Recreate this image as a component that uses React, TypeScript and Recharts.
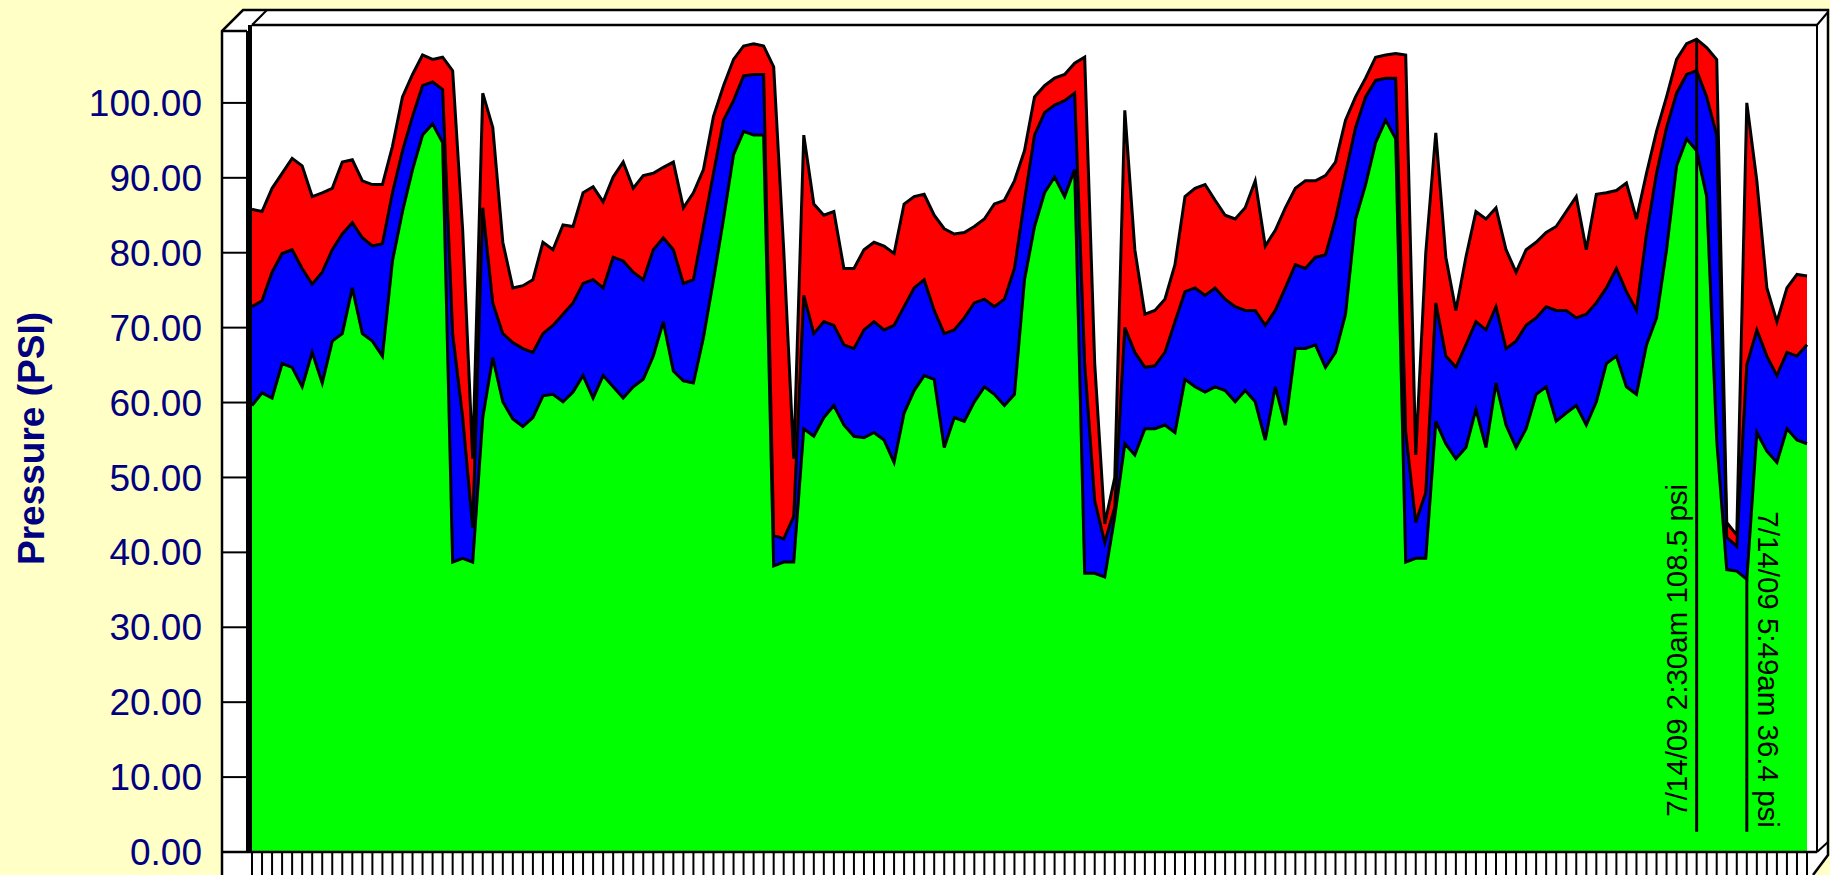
import { AreaChart, Area, XAxis, YAxis, ReferenceLine } from 'recharts'

// pressure readings, one per sample (PSI)
const highPsi = [
  85.8, 85.5, 88.6, 90.6, 92.6, 91.6, 87.5, 88.0, 88.6, 92.1, 92.4, 89.6, 89.1, 89.1, 94.2, 100.8, 103.8, 106.4, 105.8, 106.1,
  104.3, 83.0, 52.5, 101.3, 96.7, 81.4, 75.3, 75.6, 76.4, 81.4, 80.4, 83.7, 83.5, 88.0, 88.8,
  86.8, 90.1, 92.1, 88.6, 90.3, 90.6, 91.4, 92.1, 86.0, 88.0, 91.1, 98.2, 102.3, 105.8, 107.6, 107.9, 107.6, 104.8, 80.4, 52.5,
  95.7, 86.5, 85.0, 85.5, 77.9, 77.9, 80.4, 81.4, 80.9, 79.9, 86.5, 87.5, 87.8, 85.0, 83.2, 82.5, 82.7, 83.5, 84.5, 86.5,
  87.0, 89.6, 93.6, 100.8, 102.3, 103.3, 103.8, 105.3, 106.1, 65.2, 43.8, 50.0, 99.0, 80.4, 71.8, 72.3, 73.8, 78.4, 87.5, 88.6,
  89.1, 87.0, 85.0, 84.5, 86.0, 89.6, 80.9, 83.0, 86.0, 88.6, 89.6, 89.6, 90.3, 92.1, 97.7, 100.8, 103.3, 106.1, 106.4, 106.6,
  106.4, 53.0, 80.0, 96.0, 79.4, 72.3, 79.4, 85.5, 84.5, 86.0, 80.4, 77.4, 80.4, 81.4, 82.7, 83.5, 85.5, 87.5, 80.4, 87.8,
  88.0, 88.3, 89.3, 84.5, 90.6, 96.2, 100.8, 105.8, 107.9, 108.5, 107.4, 105.8, 44.0, 42.3, 100.0, 89.6, 75.3, 70.8, 75.3, 77.1,
  76.9,
]

const midPsi = [
  72.8, 73.6, 77.4, 79.9, 80.4, 77.9, 75.8, 77.4, 80.4, 82.5, 84.0, 82.0, 80.9, 81.2, 88.0, 93.6, 98.2, 102.3, 102.8, 101.8,
  69.2, 58.0, 43.3, 86.0, 73.3, 69.2, 68.0, 67.2, 66.7, 69.2, 70.3, 71.8, 73.3, 75.9, 76.4,
  75.3, 79.4, 78.9, 77.4, 76.4, 80.4, 82.0, 80.4, 75.9, 76.4, 83.5, 90.6, 97.7, 100.3, 103.6, 103.8, 103.8, 42.3, 41.8, 44.8,
  74.3, 69.2, 70.8, 70.3, 67.7, 67.2, 69.7, 70.8, 69.7, 70.3, 72.8, 75.3, 76.4, 72.3, 69.2, 69.7, 71.3, 73.3, 73.8, 72.8,
  73.8, 77.9, 87.0, 95.7, 98.7, 99.7, 100.3, 101.3, 65.2, 46.9, 41.3, 46.0, 70.0, 66.7, 64.7, 64.9, 66.7, 70.8, 74.8, 75.3,
  74.3, 75.3, 73.8, 72.8, 72.3, 72.3, 70.3, 72.3, 75.3, 78.4, 77.9, 79.4, 79.7, 84.5, 90.6, 96.7, 100.8, 103.0, 103.3, 103.3,
  56.0, 44.0, 48.0, 73.3, 66.2, 64.7, 67.7, 70.8, 69.7, 72.8, 67.2, 68.2, 70.3, 71.3, 72.8, 72.3, 72.3, 71.3, 71.8, 73.3,
  75.3, 77.9, 74.8, 72.3, 82.5, 90.6, 96.7, 101.3, 103.8, 104.3, 100.8, 95.7, 42.0, 40.8, 65.0, 69.7, 66.2, 63.6, 66.7, 66.2,
  67.7,
]

const lowPsi = [
  59.6, 61.3, 60.6, 65.2, 64.7, 62.1, 66.7, 62.6, 68.2, 69.2, 75.3, 69.2, 68.2, 66.2, 78.9, 85.5, 91.1, 95.7, 97.2, 94.7,
  38.7, 39.2, 38.7, 58.0, 66.0, 60.1, 57.8, 56.8, 58.0, 60.9, 61.1, 60.1, 61.4, 63.6, 60.6,
  63.6, 62.1, 60.6, 62.1, 63.1, 66.2, 70.8, 64.2, 62.9, 62.6, 68.7, 76.4, 84.5, 93.1, 96.2, 95.7, 95.7, 38.2, 38.7, 38.7,
  56.5, 55.5, 58.0, 59.6, 57.0, 55.5, 55.3, 56.0, 55.0, 52.0, 58.6, 61.6, 63.6, 63.1, 54.0, 58.0, 57.5, 60.1, 62.1, 61.1,
  59.6, 61.1, 76.4, 83.5, 88.0, 90.1, 87.5, 91.1, 37.2, 37.2, 36.7, 44.8, 54.5, 53.0, 56.5, 56.5, 57.0, 56.0, 63.1, 62.1,
  61.4, 62.1, 61.6, 60.1, 61.6, 60.1, 55.0, 62.1, 57.0, 67.2, 67.2, 67.7, 64.7, 66.7, 71.8, 84.5, 89.1, 94.7, 97.7, 95.2,
  38.7, 39.2, 39.2, 57.5, 54.5, 52.5, 54.0, 59.1, 54.0, 62.6, 57.0, 54.0, 56.5, 61.1, 62.1, 57.5, 58.6, 59.6, 57.0, 60.1,
  65.2, 66.2, 62.1, 61.1, 67.7, 71.3, 80.4, 91.6, 95.2, 93.6, 87.5, 55.0, 37.7, 37.5, 36.4, 56.0, 53.5, 52.0, 56.5, 55.0,
  54.5,
]

const yTicks = [0, 10, 20, 30, 40, 50, 60, 70, 80, 90, 100]

// marked readings: sample index, value, note
const peakNote = { at: 144, psi: 108.5, text: '7/14/09 2:30am 108.5 psi' }
const lowNote = { at: 149, psi: 36.4, text: '7/14/09 5:49am 36.4 psi' }

const data = lowPsi.map((low, i) => ({ sample: i, high: highPsi[i], mid: midPsi[i], low }))

const FONT = '"Liberation Sans", Arial, sans-serif'
const NAVY = '#000080'
const W = 1830
const H = 875
// plot box inside the 3D frame
const L = 252
const T = 25
const R = 1817
const B = 852
const WALL = 222

function NoteText({ viewBox, text, side }: any) {
  if (!viewBox) return null
  const { x, y, height } = viewBox
  const tx = side === 'left' ? x - 10 : x + 11
  const ty = side === 'left' ? y + height - 15 : y - 68
  return (
    <text
      x={tx}
      y={ty}
      transform={`rotate(${side === 'left' ? -90 : 90} ${tx} ${ty})`}
      fontSize={29.5}
      fontFamily={FONT}
      fill="#000"
    >
      {text}
    </text>
  )
}

export default function App() {
  return (
    <div style={{ position: 'absolute', left: 0, top: 0, width: W, height: H, background: '#FFFFC6', overflow: 'hidden' }}>
      {/* white 3D box behind the chart */}
      <svg width={W} height={H} style={{ position: 'absolute', left: 0, top: 0 }}>
        <polygon points={`${WALL},31 243,10 1828,10 1828,855 1813,${H} ${WALL},${H}`} fill="#fff" />
      </svg>

      <div style={{ position: 'absolute', left: 0, top: 0 }}>
        <AreaChart width={W} height={H} data={data} margin={{ top: T, right: W - R, bottom: 0, left: 0 }}>
          <XAxis
            dataKey="sample"
            interval={0}
            height={H - B}
            tickSize={H - B}
            tickLine={{ stroke: '#000', strokeWidth: 2 }}
            axisLine={false}
            tickFormatter={() => ''}
            padding={{ left: 0, right: 10 }}
          />
          <YAxis
            type="number"
            domain={[0, 110.4]}
            ticks={yTicks}
            width={L}
            tickSize={L - WALL}
            tickMargin={20}
            tickLine={{ stroke: '#000', strokeWidth: 2 }}
            axisLine={false}
            tick={{ fill: NAVY, fontSize: 37, fontFamily: FONT }}
            tickFormatter={(v) => v.toFixed(2)}
            label={{
              value: 'Pressure (PSI)',
              angle: -90,
              position: 'insideLeft',
              offset: 31,
              style: { textAnchor: 'middle', fill: NAVY, fontSize: 37, fontWeight: 'bold', fontFamily: FONT },
            }}
          />
          <Area type="linear" dataKey="high" fill="#FF0000" fillOpacity={1} stroke="#000" strokeWidth={3} dot={false} activeDot={false} isAnimationActive={false} />
          <Area type="linear" dataKey="mid" fill="#0000FF" fillOpacity={1} stroke="#000" strokeWidth={3} dot={false} activeDot={false} isAnimationActive={false} />
          <Area type="linear" dataKey="low" fill="#00FF00" fillOpacity={1} stroke="#000" strokeWidth={3} dot={false} activeDot={false} isAnimationActive={false} />
          <ReferenceLine
            segment={[{ x: peakNote.at, y: 2.7 }, { x: peakNote.at, y: peakNote.psi }]}
            stroke="#000"
            strokeWidth={3}
            label={{ content: (p: any) => <NoteText viewBox={p.viewBox} text={peakNote.text} side="left" /> }}
          />
          <ReferenceLine
            segment={[{ x: lowNote.at, y: 2.7 }, { x: lowNote.at, y: lowNote.psi }]}
            stroke="#000"
            strokeWidth={3}
            label={{ content: (p: any) => <NoteText viewBox={p.viewBox} text={lowNote.text} side="right" /> }}
          />
        </AreaChart>
      </div>

      {/* frame edges drawn over the plot */}
      <svg width={W} height={H} style={{ position: 'absolute', left: 0, top: 0, pointerEvents: 'none' }}>
        <g stroke="#000" fill="none">
          <polyline points={`${WALL},${H} ${WALL},31 243,10 1828,10 1828,855 1813,${H}`} strokeWidth={2.5} />
          <line x1={WALL} y1={31} x2={247} y2={31} strokeWidth={2.5} />
          <line x1={247} y1={31} x2={247} y2={B} strokeWidth={2} />
          <line x1={L} y1={T} x2={267} y2={10} strokeWidth={2} />
          <line x1={L} y1={T} x2={R} y2={T} strokeWidth={2.5} />
          <line x1={250} y1={T} x2={250} y2={B} strokeWidth={4} />
          <line x1={R} y1={T} x2={R} y2={B} strokeWidth={2} />
          <line x1={R} y1={T} x2={1828} y2={12} strokeWidth={2} />
          <line x1={WALL} y1={B} x2={R} y2={B} strokeWidth={2.5} />
          <line x1={R} y1={B} x2={1828} y2={842} strokeWidth={2} />
        </g>
      </svg>
    </div>
  )
}
